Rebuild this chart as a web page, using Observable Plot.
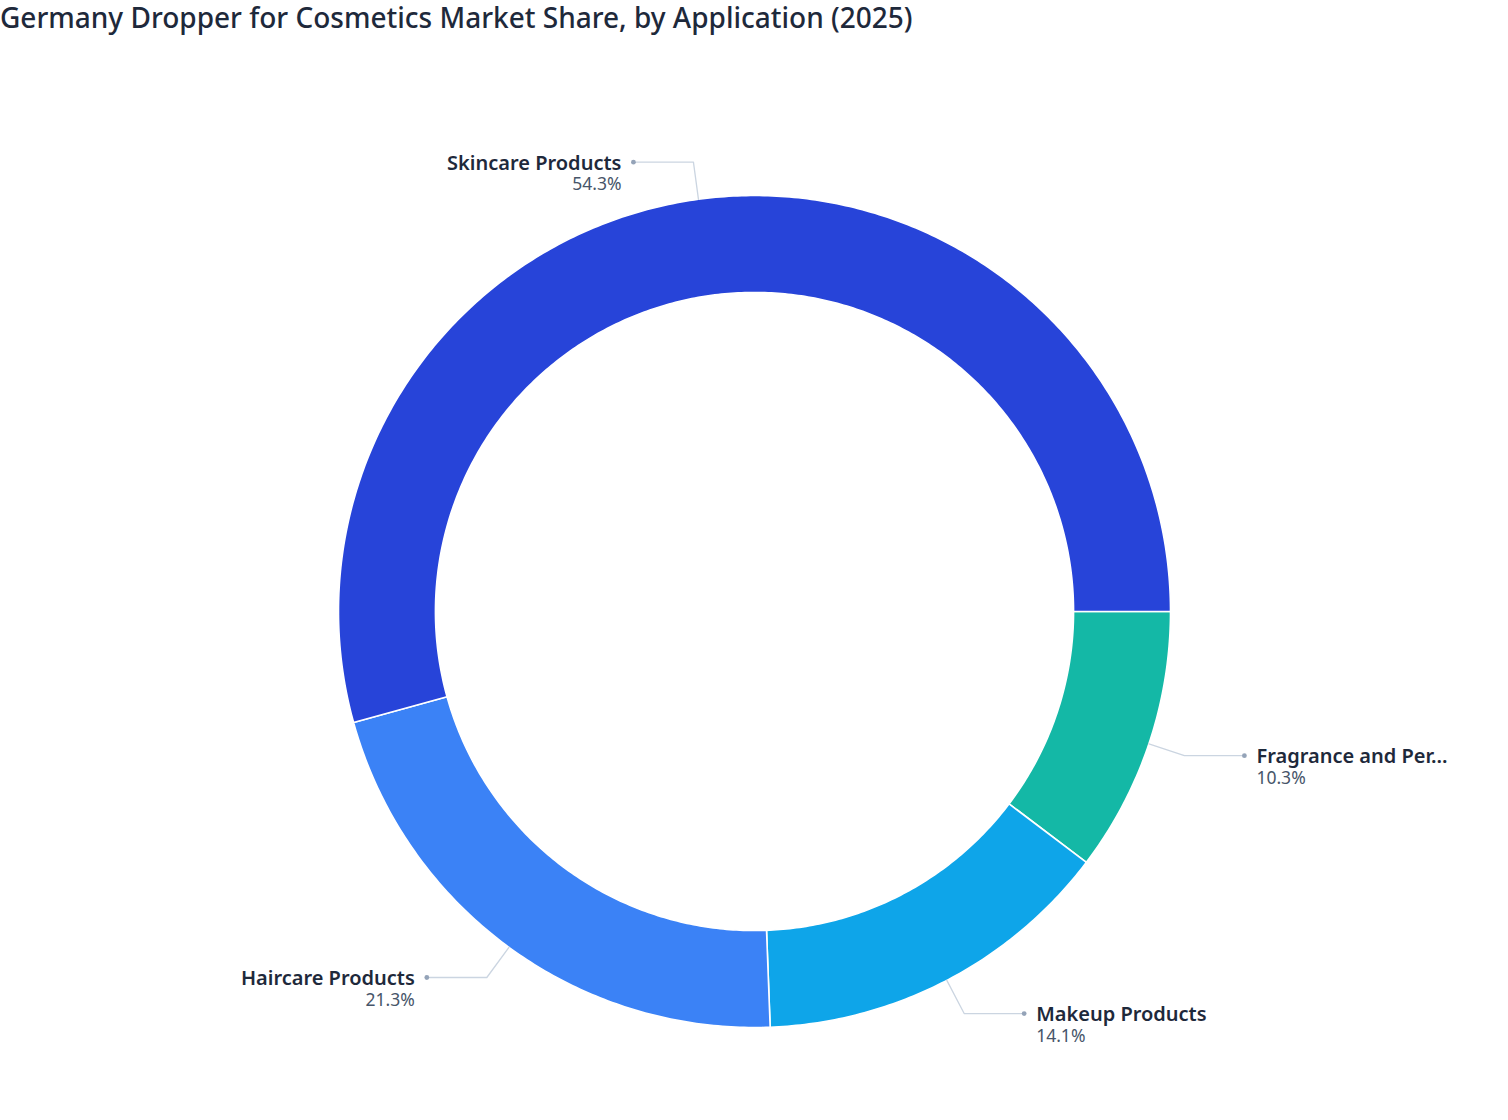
<!DOCTYPE html>
<html>
<head>
<meta charset="utf-8">
<script src="https://cdn.jsdelivr.net/npm/d3@7"></script>
<script src="https://cdn.jsdelivr.net/npm/@observablehq/plot@0.6"></script>
<style>
  html, body { margin: 0; padding: 0; background: #ffffff; }
  body { width: 1508px; height: 1120px; overflow: hidden; font-family: "Noto Sans", "Open Sans", sans-serif; }
  #title { height: 37px; padding-top: 3px; margin: 0; font-size: 28px; line-height: 28px; font-weight: 500; color: #1e293b; white-space: nowrap; }
  #chart svg { display: block; }
</style>
</head>
<body>
<div id="title">Germany Dropper for Cosmetics Market Share, by Application (2025)</div>
<div id="chart"></div>
<script>
// Data (clockwise from 3 o'clock)
const categories = ["Fragrance and Per...", "Makeup Products", "Haircare Products", "Skincare Products"];
const shares = [10.3, 14.1, 21.3, 54.3];
const colors = ["#14b8a6", "#0ea5e9", "#3b82f6", "#2744d9"];

// Layout
const W = 1508, H = 1080;
const cx = 754, cy = 571, R = 416;
const inner = 0.767;
const elbowR = 1.09, armLen = 60 / R;

const total = d3.sum(shares);
let cum = 0;
const slices = categories.map((c, i) => {
  const a0 = cum / total * 2 * Math.PI;
  cum += shares[i];
  const a1 = cum / total * 2 * Math.PI;
  return { label: c, value: shares[i], a0, a1, mid: (a0 + a1) / 2 };
});

// polygon points for each slice (angle clockwise from 3 o'clock, y up in data space)
const pt = (r, a) => [r * Math.cos(a), -r * Math.sin(a)];
const polys = [];
for (const s of slices) {
  const n = Math.max(8, Math.ceil((s.a1 - s.a0) / (2 * Math.PI) * 600));
  const pts = [];
  for (let k = 0; k <= n; k++) pts.push(pt(1, s.a0 + (s.a1 - s.a0) * k / n));
  for (let k = n; k >= 0; k--) pts.push(pt(inner, s.a0 + (s.a1 - s.a0) * k / n));
  pts.push(pts[0]);
  pts.forEach(([x, y], j) => polys.push({ label: s.label, x, y, j }));
}

// leader lines
const leaders = [];
const ends = [];
for (const s of slices) {
  const [x0, y0] = pt(1, s.mid);
  const [x1, y1] = pt(elbowR, s.mid);
  const right = Math.cos(s.mid) >= 0;
  const x2 = x1 + (right ? armLen : -armLen);
  leaders.push({ label: s.label, x: x0, y: y0 }, { label: s.label, x: x1, y: y1 }, { label: s.label, x: x2, y: y1 });
  ends.push({ label: s.label, pct: s.value.toFixed(1) + "%", x: x2, y: y1, right });
}

const chart = Plot.plot({
  width: W,
  height: H,
  margin: 0,
  x: { domain: [-cx / R, (W - cx) / R], range: [0, W], axis: null },
  y: { domain: [-(H - cy) / R, cy / R], range: [H, 0], axis: null },
  color: { domain: categories, range: colors },
  style: { fontFamily: "'Noto Sans', 'Open Sans', sans-serif", background: "#ffffff" },
  marks: [
    Plot.line(polys, { x: "x", y: "y", z: "label", fill: "label", stroke: "#ffffff", strokeWidth: 1.6, curve: "linear" }),
    Plot.line(leaders, { x: "x", y: "y", z: "label", stroke: "#cbd5e1", strokeWidth: 1.3, curve: "linear" }),
    Plot.dot(ends, { x: "x", y: "y", r: 2.4, fill: "#94a3b8", stroke: "none" }),
    Plot.text(ends.filter(d => d.right), { x: "x", y: "y", text: "label", dx: 12, dy: 1, textAnchor: "start", lineAnchor: "middle", fontSize: 20, fontWeight: 600, fill: "#1e293b" }),
    Plot.text(ends.filter(d => d.right), { x: "x", y: "y", text: "pct", dx: 12, dy: 22.5, textAnchor: "start", lineAnchor: "middle", fontSize: 17.5, fill: "#475569" }),
    Plot.text(ends.filter(d => !d.right), { x: "x", y: "y", text: "label", dx: -12, dy: 1, textAnchor: "end", lineAnchor: "middle", fontSize: 20, fontWeight: 600, fill: "#1e293b" }),
    Plot.text(ends.filter(d => !d.right), { x: "x", y: "y", text: "pct", dx: -12, dy: 22.5, textAnchor: "end", lineAnchor: "middle", fontSize: 17.5, fill: "#475569" })
  ]
});
document.getElementById("chart").appendChild(chart);
</script>
</body>
</html>
